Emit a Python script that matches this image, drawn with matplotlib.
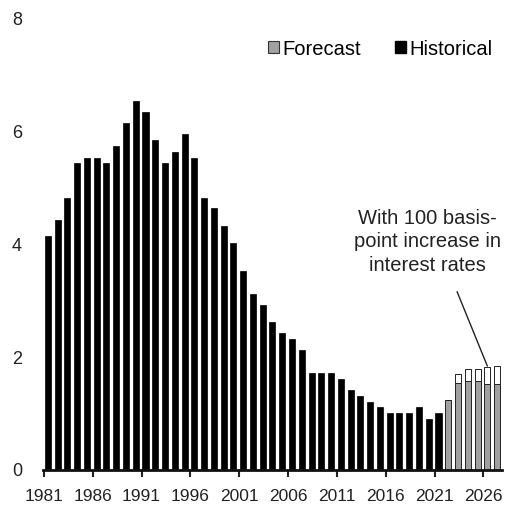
import numpy as np
from matplotlib import pyplot as plt
from matplotlib.patches import Patch

plt.rcParams['font.family'] = ['Liberation Sans', 'DejaVu Sans']

hist_years = list(range(1981, 2022))
hist_values = [4.14, 4.44, 4.83, 5.45, 5.54, 5.54, 5.45, 5.74, 6.15, 6.55,
               6.34, 5.85, 5.45, 5.64, 5.95, 5.54, 4.83, 4.64, 4.33, 4.03,
               3.52, 3.12, 2.93, 2.62, 2.42, 2.32, 2.12, 1.71, 1.71, 1.71,
               1.61, 1.42, 1.31, 1.21, 1.11, 1.00, 1.00, 1.00, 1.11, 0.90,
               1.00]
fc_years = list(range(2022, 2028))
fc_base = [1.24, 1.54, 1.57, 1.57, 1.53, 1.53]
fc_hike = [1.24, 1.70, 1.79, 1.79, 1.83, 1.85]
tick_years = list(range(1981, 2027, 5))

fig = plt.figure(figsize=(5.17, 5.09), dpi=100)
ax = fig.add_axes([0.083, 0.077, 0.888, 0.886])

w = 0.62
ax.bar(hist_years, hist_values, width=w, color='black', edgecolor='black', linewidth=0.5)
ax.bar(fc_years, fc_base, width=w, color='#a0a0a0', edgecolor='#222222', linewidth=0.7)
extra = np.array(fc_hike) - np.array(fc_base)
ax.bar(fc_years, extra, bottom=fc_base, width=w, color='white', edgecolor='#222222', linewidth=0.7)

ax.set_xlim(1980.5, 2027.5)
ax.set_ylim(0, 8)
ax.set_yticks([0, 2, 4, 6, 8])
ax.set_xticks([y - 0.4 for y in tick_years])
ax.set_xticklabels([str(y) for y in tick_years])
ax.tick_params(axis='x', length=5, width=1.5, color='#222222', labelsize=12.5, labelcolor='#222222', pad=9)
ax.tick_params(axis='y', length=0, labelsize=13, labelcolor='#222222', pad=15)

for s in ['top', 'right', 'left']:
    ax.spines[s].set_visible(False)
ax.spines['bottom'].set_linewidth(2)
ax.spines['bottom'].set_color('#111111')

handles = [Patch(facecolor='#a0a0a0', edgecolor='#333333', linewidth=0.8, label='Forecast'),
           Patch(facecolor='black', edgecolor='black', label='Historical')]
ax.legend(handles=handles, loc='center right', bbox_to_anchor=(0.997, 0.933), ncol=2,
          frameon=False, fontsize=14.5, handlelength=0.55, handleheight=0.55,
          handletextpad=0.15, columnspacing=1.7, borderaxespad=0)

ax.text(2019.9, 4.05, 'With 100 basis-\npoint increase in\ninterest rates',
        ha='center', va='center', fontsize=14.5, color='#222222', linespacing=1.3)
ax.annotate('', xy=(2026, 1.84), xytext=(2022.9, 3.16),
            arrowprops=dict(arrowstyle='-', color='#222222', lw=1,
                            shrinkA=0, shrinkB=0))

fig.savefig('out.png', dpi=100)
